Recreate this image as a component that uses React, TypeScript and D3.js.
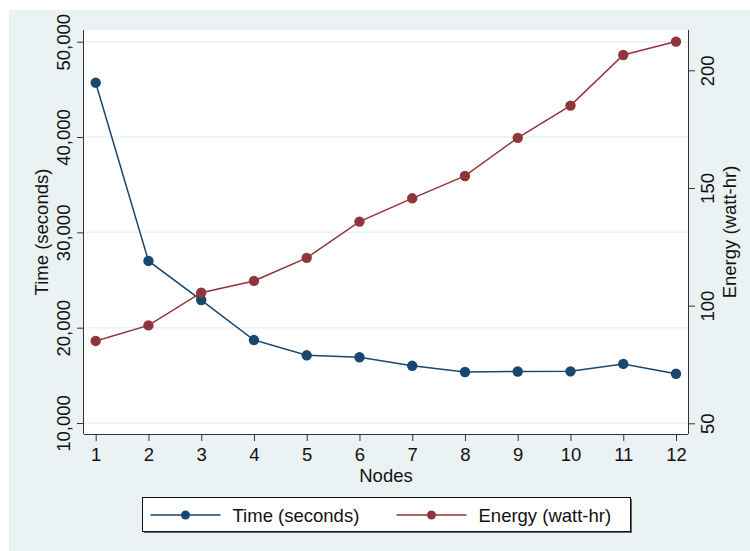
import { useRef, useEffect } from "react";
import * as d3 from "d3";

const nodes = [1, 2, 3, 4, 5, 6, 7, 8, 9, 10, 11, 12];
const timeSeconds = [45700, 27000, 22900, 18700, 17100, 16900, 16000, 15350, 15400, 15420, 16200, 15170];
const energyWattHr = [85, 91.6, 105.5, 110.5, 120.3, 135.7, 145.6, 155.1, 171.3, 185, 206.5, 212.2];
const timeTicks = [10000, 20000, 30000, 40000, 50000];
const energyTicks = [50, 100, 150, 200];

const W = 750;
const H = 551;
const FONT = "Liberation Sans, Arial, Helvetica, sans-serif";
const NAVY = "#1a476f";
const MAROON = "#90353b";
const BG = "#eaf2f3";

const App = () => {
  const svgRef = useRef<SVGSVGElement>(null);

  useEffect(() => {
    const svg = d3.select(svgRef.current);
    svg.selectAll("*").remove();

    const plot = { left: 84, right: 688, top: 30, bottom: 434 };

    const x = d3.scaleLinear().domain([1, 12]).range([95.7, 676]);
    const yTime = d3.scaleLinear().domain([10000, 50000]).range([423, 41.7]);
    const yEnergy = d3.scaleLinear().domain([50, 200]).range([423.3, 70.3]);

    // backgrounds
    svg.append("rect").attr("x", 9).attr("y", 10).attr("width", W - 9).attr("height", H - 10).attr("fill", BG);
    svg
      .append("rect")
      .attr("x", plot.left)
      .attr("y", plot.top)
      .attr("width", plot.right - plot.left)
      .attr("height", plot.bottom - plot.top)
      .attr("fill", "white");

    // gridlines
    svg
      .append("g")
      .selectAll("line")
      .data(timeTicks)
      .join("line")
      .attr("x1", plot.left)
      .attr("x2", plot.right)
      .attr("y1", (d) => yTime(d))
      .attr("y2", (d) => yTime(d))
      .attr("stroke", BG)
      .attr("stroke-width", 1.5);

    // left axis
    const left = svg
      .append("g")
      .attr("transform", `translate(${plot.left},0)`)
      .call(d3.axisLeft(yTime).tickValues(timeTicks).tickSize(7).tickFormat(d3.format(",")));
    left.select(".domain").attr("d", `M-0.5,${plot.top}V${plot.bottom}`);
    left
      .selectAll(".tick text")
      .attr("transform", "rotate(-90)")
      .attr("x", 0)
      .attr("y", -14)
      .attr("dy", 0)
      .attr("text-anchor", "middle");

    // right axis
    const right = svg
      .append("g")
      .attr("transform", `translate(${plot.right},0)`)
      .call(d3.axisRight(yEnergy).tickValues(energyTicks).tickSize(7));
    right.select(".domain").attr("d", `M0.5,${plot.top}V${plot.bottom}`);
    right
      .selectAll(".tick text")
      .attr("transform", "rotate(-90)")
      .attr("x", 0)
      .attr("y", 26)
      .attr("dy", 0)
      .attr("text-anchor", "middle");

    // bottom axis
    const bottom = svg
      .append("g")
      .attr("transform", `translate(0,${plot.bottom})`)
      .call(d3.axisBottom(x).tickValues(nodes).tickSize(7).tickFormat(d3.format("d")));
    bottom.select(".domain").attr("d", `M${plot.left},0.5H${plot.right}`);
    bottom.selectAll(".tick text").attr("y", 27).attr("dy", 0);

    svg
      .selectAll(".tick text")
      .attr("font-family", FONT)
      .attr("font-size", 18.5)
      .attr("fill", "#111");
    svg.selectAll(".domain, .tick line").attr("stroke", "#333").attr("stroke-width", 1);

    // axis titles
    svg
      .append("text")
      .attr("transform", `translate(48,${(plot.top + plot.bottom) / 2}) rotate(-90)`)
      .attr("text-anchor", "middle")
      .attr("font-family", FONT)
      .attr("font-size", 18.5)
      .attr("fill", "#111")
      .text("Time (seconds)");
    svg
      .append("text")
      .attr("transform", `translate(736,${(plot.top + plot.bottom) / 2}) rotate(-90)`)
      .attr("text-anchor", "middle")
      .attr("font-family", FONT)
      .attr("font-size", 18.5)
      .attr("fill", "#111")
      .text("Energy (watt-hr)");
    svg
      .append("text")
      .attr("x", (plot.left + plot.right) / 2)
      .attr("y", 482)
      .attr("text-anchor", "middle")
      .attr("font-family", FONT)
      .attr("font-size", 18.5)
      .attr("fill", "#111")
      .text("Nodes");

    // series
    const series = [
      { name: "Time (seconds)", values: timeSeconds, y: yTime, color: NAVY },
      { name: "Energy (watt-hr)", values: energyWattHr, y: yEnergy, color: MAROON },
    ];

    series.forEach((s) => {
      const line = d3
        .line<number>()
        .x((_, i) => x(nodes[i]))
        .y((d) => s.y(d));
      svg
        .append("path")
        .datum(s.values)
        .attr("d", line)
        .attr("fill", "none")
        .attr("stroke", s.color)
        .attr("stroke-width", 1.5);
      svg
        .append("g")
        .selectAll("circle")
        .data(s.values)
        .join("circle")
        .attr("cx", (_, i) => x(nodes[i]))
        .attr("cy", (d) => s.y(d))
        .attr("r", 5.2)
        .attr("fill", s.color);
    });

    // legend
    const legend = svg.append("g").attr("transform", "translate(142.5,497.5)");
    legend
      .append("rect")
      .attr("x", 1.5)
      .attr("y", 1.5)
      .attr("width", 488)
      .attr("height", 34)
      .attr("fill", "#666");
    legend
      .append("rect")
      .attr("width", 488)
      .attr("height", 34)
      .attr("fill", "white")
      .attr("stroke", "#111")
      .attr("stroke-width", 1);

    const legendX = [8, 254];
    series.forEach((s, i) => {
      const g = legend.append("g").attr("transform", `translate(${legendX[i]},17.5)`);
      g.append("line").attr("x1", 0).attr("x2", 70).attr("stroke", s.color).attr("stroke-width", 1.5);
      g.append("circle").attr("cx", 35).attr("r", 4.5).attr("fill", s.color);
      g.append("text")
        .attr("x", 82)
        .attr("y", 6.5)
        .attr("font-family", FONT)
        .attr("font-size", 18.5)
        .attr("fill", "#111")
        .text(s.name);
    });
  }, []);

  return (
    <svg
      ref={svgRef}
      width={W}
      height={H}
      style={{ position: "absolute", left: 0, top: 0, background: "white" }}
    />
  );
};

export default App;
